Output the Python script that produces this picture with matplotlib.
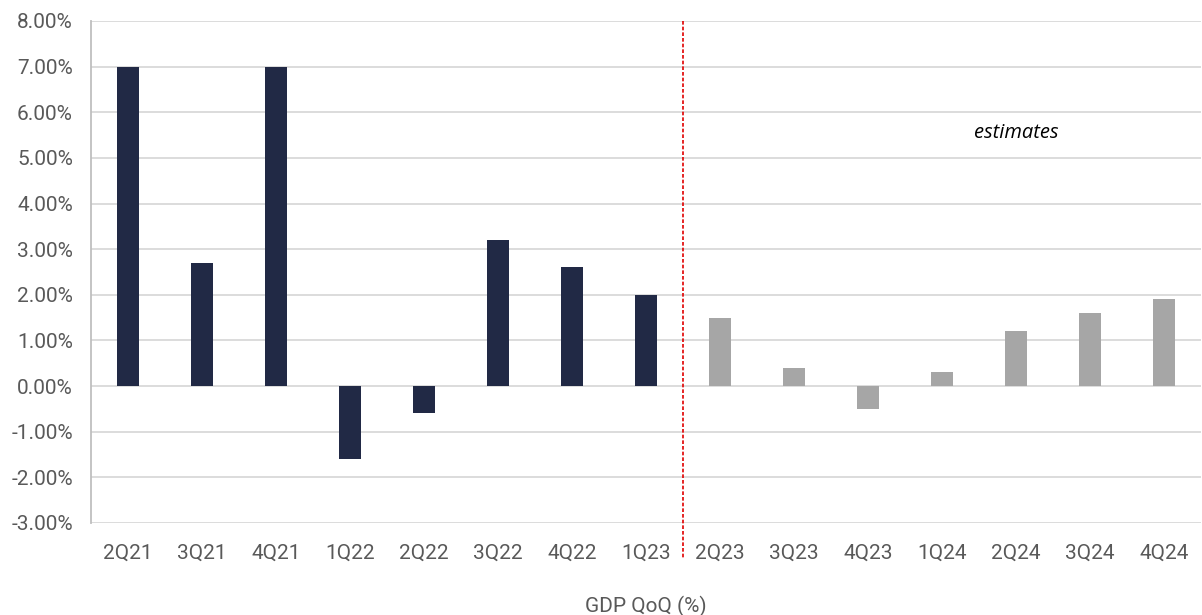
import matplotlib
matplotlib.use("Agg")
import matplotlib.pyplot as plt
from matplotlib.ticker import PercentFormatter

# quarters and GDP QoQ growth (%)
quarters = ["2Q21", "3Q21", "4Q21", "1Q22", "2Q22", "3Q22", "4Q22", "1Q23",
            "2Q23", "3Q23", "4Q23", "1Q24", "2Q24", "3Q24", "4Q24"]
gdp_qoq = [7.0, 2.7, 7.0, -1.6, -0.6, 3.2, 2.6, 2.0,
           1.5, 0.4, -0.5, 0.3, 1.2, 1.6, 1.9]
n_actual = 8  # first 8 are actuals, rest are estimates

plt.rcParams['font.family'] = ['Roboto', 'DejaVu Sans']
plt.rcParams['axes.unicode_minus'] = False

fig = plt.figure(figsize=(12.02, 6.15), dpi=100)
ax = fig.add_axes([91/1202, 1 - 523/615, 1110/1202, 502/615])

colors = ["#212945" if i < n_actual else "#a6a6a6" for i in range(len(quarters))]
x = list(range(len(quarters)))
ax.bar(x, gdp_qoq, width=0.31, color=colors, zorder=3)

ax.set_xlim(-0.5, len(quarters) - 0.5)
ax.set_ylim(-3, 8)
ax.set_yticks(range(-3, 9))
ax.yaxis.set_major_formatter(PercentFormatter(decimals=2))
ax.set_xticks(x)
ax.set_xticklabels(quarters)

ax.grid(axis='y', color='#d9d9d9', linewidth=1.3, zorder=0)
for s in ['top', 'right', 'bottom']:
    ax.spines[s].set_visible(False)
ax.spines['left'].set_color('#bfbfbf')
ax.spines['left'].set_linewidth(1.3)
ax.tick_params(length=0, labelsize=15, labelcolor='#595959')
ax.tick_params(axis='x', pad=15)
ax.tick_params(axis='y', pad=13)

# divider between actuals and estimates
ax.plot([n_actual - 0.5, n_actual - 0.5], [1, -0.07],
        transform=ax.get_xaxis_transform(), color='#e00000',
        linewidth=1.2, linestyle=(0, (2.2, 1.2)), clip_on=False, zorder=4)

ax.text(12.0, 5.55, "estimates", style='italic', fontsize=14.5,
        family=['Open Sans', 'DejaVu Sans'], ha='center', va='center')

ax.set_xlabel("GDP QoQ (%)", fontsize=15, color='#595959', labelpad=24)

fig.savefig("out.png", dpi=100)
